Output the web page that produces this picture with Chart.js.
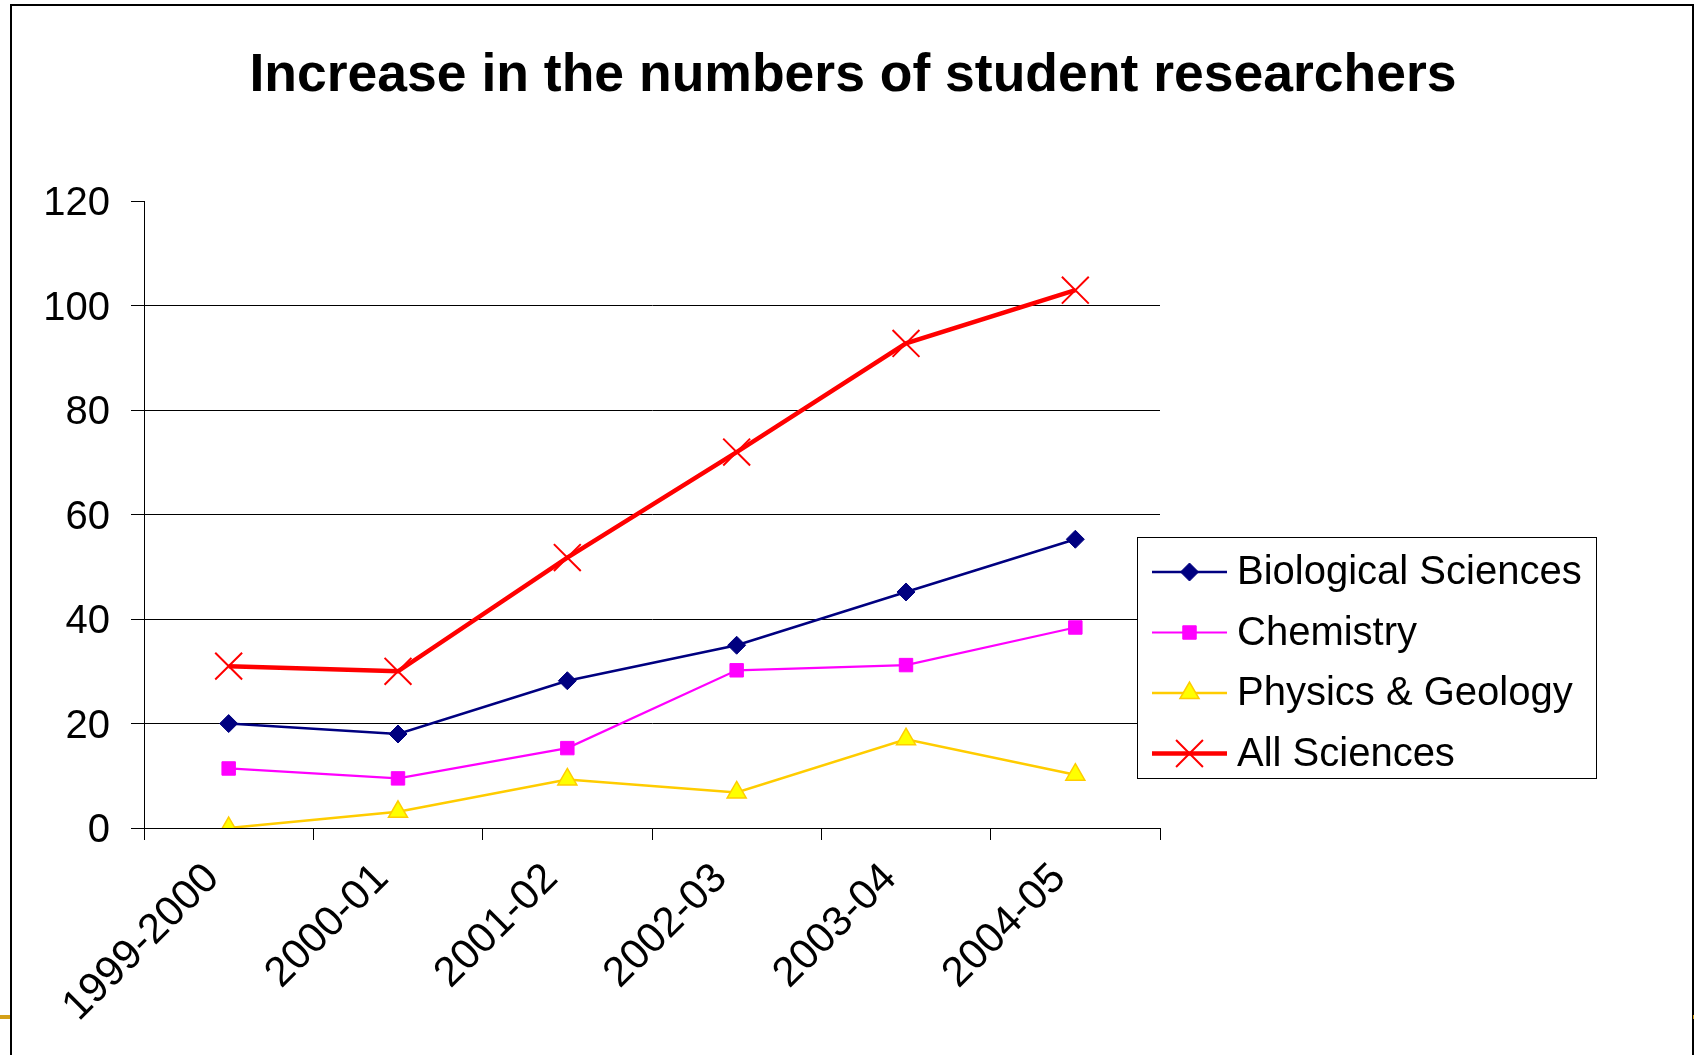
<!DOCTYPE html>
<html>
<head>
<meta charset="utf-8">
<script src="https://cdn.jsdelivr.net/npm/chart.js@4.4.1/dist/chart.umd.min.js"></script>
<style>
  html, body { margin: 0; padding: 0; background: #fff; }
  #wrap { position: relative; width: 1694px; height: 1055px; overflow: hidden; background: #fff; }
  #c { position: absolute; left: 0; top: 0; }
  #frame { position: absolute; left: 10px; top: 4px; width: 1680px; height: 1100px;
           border-left: 2px solid #000; border-top: 2px solid #000; border-right: 2px solid #000; pointer-events: none; }
  #goldL { position: absolute; left: 0; top: 1015px; width: 10px; height: 4px; background: #D4A017; }
  #goldR { position: absolute; left: 1693px; top: 1015px; width: 2px; height: 4px; background: #D4A017; }
</style>
</head>
<body>
<div id="wrap">
  <canvas id="c" width="1694" height="1055"></canvas>
  <div id="frame"></div>
  <div id="goldL"></div>
  <div id="goldR"></div>
</div>
<script>
// ---- data ----
const chartTitle = "Increase in the numbers of student researchers";
const categories = ["1999-2000", "2000-01", "2001-02", "2002-03", "2003-04", "2004-05"];
const seriesNames = ["Biological Sciences", "Chemistry", "Physics & Geology", "All Sciences"];
const biological = [20, 18, 28.2, 35, 45.2, 55.3];
const chemistry = [11.4, 9.5, 15.3, 30.2, 31.2, 38.4];
const physicsGeology = [0, 3.1, 9.3, 6.8, 17, 10.2];
const allSciences = [31, 30, 51.8, 72, 92.8, 103];
const yTicks = [0, 20, 40, 60, 80, 100, 120];

const FONT = "'Liberation Sans', Arial, sans-serif";

const datasets = [
  { label: seriesNames[0], data: biological, borderColor: '#000080', backgroundColor: '#000080',
    borderWidth: 2.5, pointStyle: 'rectRot', pointRadius: 9, pointBorderWidth: 1,
    pointBackgroundColor: '#000080', pointBorderColor: '#000080' },
  { label: seriesNames[1], data: chemistry, borderColor: '#FF00FF', backgroundColor: '#FF00FF',
    borderWidth: 2.2, pointStyle: 'rect', pointRadius: 9.5, pointBorderWidth: 1,
    pointBackgroundColor: '#FF00FF', pointBorderColor: '#FF00FF' },
  { label: seriesNames[2], data: physicsGeology, borderColor: '#FFCC00', backgroundColor: '#FFFF00',
    borderWidth: 2.5, pointStyle: 'triangle', pointRadius: 11, pointBorderWidth: 1.5,
    pointBackgroundColor: '#FFFF00', pointBorderColor: '#FFCC00' },
  { label: seriesNames[3], data: allSciences, borderColor: '#FF0000', backgroundColor: '#FF0000',
    borderWidth: 4.5, pointStyle: 'crossRot', pointRadius: 19, pointBorderWidth: 2,
    pointBackgroundColor: '#FF0000', pointBorderColor: '#FF0000' }
];

const boxLegend = {
  id: 'boxLegend',
  afterDraw(chart) {
    const ctx = chart.ctx;
    const x0 = 1137.5, y0 = 537.5, w = 459, h = 241;
    ctx.save();
    ctx.fillStyle = '#fff';
    ctx.fillRect(x0, y0, w, h);
    ctx.strokeStyle = '#000';
    ctx.lineWidth = 1;
    ctx.strokeRect(x0, y0, w, h);
    chart.data.datasets.forEach((ds, i) => {
      const cy = 572 + i * 60.5;
      ctx.beginPath();
      ctx.strokeStyle = ds.borderColor;
      ctx.lineWidth = ds.borderWidth;
      ctx.moveTo(1152, cy);
      ctx.lineTo(1227, cy);
      ctx.stroke();
      ctx.fillStyle = ds.pointBackgroundColor;
      ctx.strokeStyle = ds.pointBorderColor;
      ctx.lineWidth = ds.pointBorderWidth;
      Chart.helpers.drawPoint(ctx, { pointStyle: ds.pointStyle, radius: ds.pointRadius, rotation: 0, borderWidth: ds.pointBorderWidth }, 1189.5, cy);
      ctx.fillStyle = '#000';
      ctx.font = '40px ' + FONT;
      ctx.textBaseline = 'middle';
      ctx.textAlign = 'left';
      ctx.fillText(ds.label, 1237, cy + 1);
    });
    ctx.restore();
  }
};

new Chart(document.getElementById('c'), {
  type: 'line',
  data: { labels: categories, datasets },
  options: {
    responsive: false,
    animation: false,
    devicePixelRatio: 1,
    layout: { padding: { left: 12, right: 0, top: 0, bottom: 0 } },
    elements: { line: { tension: 0 } },
    plugins: {
      legend: { display: false },
      tooltip: { enabled: false },
      title: {
        display: true, text: chartTitle, color: '#000',
        font: { family: FONT, size: 53.5, weight: 'bold' },
        padding: { top: 44.6, bottom: 92.6 }
      }
    },
    scales: {
      x: {
        offset: true,
        grid: { display: true, drawOnChartArea: false, offset: true, color: '#000', tickColor: '#000', tickLength: 12, lineWidth: 1 },
        border: { display: true, color: '#000', width: 1 },
        ticks: { color: '#000', font: { family: FONT, size: 42 }, minRotation: 45, maxRotation: 45, autoSkip: false, padding: 14, labelOffset: -16 },
        afterFit(a) { a.height = 227; }
      },
      y: {
        min: 0, max: 120,
        afterBuildTicks(a) { a.ticks = yTicks.map(v => ({ value: v })); },
        grid: { color: (c) => (c.tick && c.tick.value === 120) ? 'rgba(0,0,0,0)' : '#000', tickColor: '#000', tickLength: 13, lineWidth: 1 },
        border: { display: true, color: '#000', width: 1 },
        ticks: { color: '#000', font: { family: FONT, size: 40 }, padding: 21, labelOffset: 3 },
        afterFit(a) { a.width = 132; }
      },
      spacer: {
        type: 'linear', position: 'right', display: true,
        grid: { display: false, drawTicks: false }, border: { display: false },
        ticks: { display: false },
        afterFit(a) { a.width = 534; }
      }
    }
  },
  plugins: [boxLegend]
});
</script>
</body>
</html>
